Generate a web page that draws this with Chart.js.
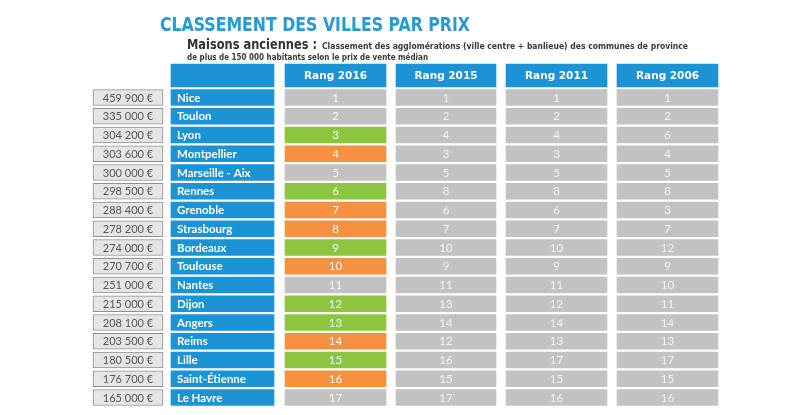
<!DOCTYPE html>
<html>
<head>
<meta charset="utf-8">
<script src="https://cdn.jsdelivr.net/npm/chart.js@4.4.1/dist/chart.umd.min.js"></script>
<style>
	html, body { margin: 0; padding: 0; background: #fff; }
	#wrap { position: relative; width: 800px; height: 415px; }
</style>
</head>
<body>
<div id="wrap"><canvas id="classement" width="800" height="415"></canvas></div>
<script>
(function () {
	'use strict';

	// --- data ---
	var villes = ['Nice', 'Toulon', 'Lyon', 'Montpellier', 'Marseille - Aix', 'Rennes', 'Grenoble',
		'Strasbourg', 'Bordeaux', 'Toulouse', 'Nantes', 'Dijon', 'Angers', 'Reims', 'Lille',
		'Saint-Étienne', 'Le Havre'];
	var prix = [459900, 335000, 304200, 303600, 300000, 298500, 288400, 278200, 274000, 270700,
		251000, 215000, 208100, 203500, 180500, 176700, 165000];
	var rang2016 = [1, 2, 3, 4, 5, 6, 7, 8, 9, 10, 11, 12, 13, 14, 15, 16, 17];
	var rang2015 = [1, 2, 4, 3, 5, 8, 6, 7, 10, 9, 11, 13, 14, 12, 16, 15, 17];
	var rang2011 = [1, 2, 4, 3, 5, 8, 6, 7, 10, 9, 11, 12, 14, 13, 17, 15, 16];
	var rang2006 = [1, 2, 6, 4, 5, 8, 3, 7, 12, 9, 10, 11, 14, 13, 17, 15, 16];
	var enTetes = ['Rang 2016', 'Rang 2015', 'Rang 2011', 'Rang 2006'];

	// --- layout (column extents in x-scale units = px) ---
	var COL_PRIX = [93, 163];
	var COL_VILLE = [171, 274];
	var COL_RANG = [[285, 386], [396, 496], [506, 607], [617, 718]];
	var ROW_H = 18.75;
	var HEADER_Y = -22 / ROW_H;

	var BLEU = '#1b93d5';
	var GRIS = '#c2c2c2';
	var VERT = '#8cc63f';
	var ORANGE = '#f6923f';

	function fmtPrix(v) {
		return String(v).replace(/\B(?=(\d{3})+(?!\d))/g, ' ') + ' €';
	}

	function couleur2016(i) {
		if (rang2016[i] < rang2015[i]) return VERT;
		if (rang2016[i] > rang2015[i]) return ORANGE;
		return GRIS;
	}

	function cells(col) {
		return villes.map(function (v, i) { return { x: col, y: rang2016[i] - 1 }; });
	}

	var datasets = [
		{
			label: 'prix',
			data: cells(COL_PRIX),
			labels: prix.map(fmtPrix),
			backgroundColor: '#e5e5e5',
			borderColor: '#8f8f8f',
			borderWidth: 1,
			borderSkipped: false,
			barThickness: 16,
			txt: { font: '11px Lato', color: '#555', align: 'center' }
		},
		{
			label: 'villes',
			data: cells(COL_VILLE),
			labels: villes,
			backgroundColor: BLEU,
			barThickness: 16,
			txt: { font: 'bold 11.5px Lato', color: '#fff', align: 'left' }
		},
		{
			label: 'Rang 2016',
			data: cells(COL_RANG[0]),
			labels: rang2016.map(String),
			backgroundColor: villes.map(function (v, i) { return couleur2016(i); }),
			barThickness: 16,
			txt: { font: '11.5px Lato', color: '#fafafa', align: 'center' }
		},
		{
			label: 'Rang 2015',
			data: cells(COL_RANG[1]),
			labels: rang2015.map(String),
			backgroundColor: GRIS,
			barThickness: 16,
			txt: { font: '11.5px Lato', color: '#f4f4f4', align: 'center' }
		},
		{
			label: 'Rang 2011',
			data: cells(COL_RANG[2]),
			labels: rang2011.map(String),
			backgroundColor: GRIS,
			barThickness: 16,
			txt: { font: '11.5px Lato', color: '#f4f4f4', align: 'center' }
		},
		{
			label: 'Rang 2006',
			data: cells(COL_RANG[3]),
			labels: rang2006.map(String),
			backgroundColor: GRIS,
			barThickness: 16,
			txt: { font: '11.5px Lato', color: '#f4f4f4', align: 'center' }
		},
		{
			label: 'entetes',
			data: [{ x: COL_VILLE, y: HEADER_Y }].concat(COL_RANG.map(function (c) {
				return { x: c, y: HEADER_Y };
			})),
			labels: [''].concat(enTetes),
			backgroundColor: BLEU,
			barThickness: 23,
			txt: { font: 'bold 10.5px "DejaVu Sans"', color: '#fff', align: 'center' }
		}
	];
	datasets.forEach(function (d) { d.grouped = false; });

	var cellText = {
		id: 'cellText',
		afterDatasetsDraw: function (chart) {
			var ctx = chart.ctx;
			chart.data.datasets.forEach(function (ds, di) {
				var meta = chart.getDatasetMeta(di);
				ctx.save();
				ctx.font = ds.txt.font;
				ctx.fillStyle = ds.txt.color;
				ctx.textBaseline = 'middle';
				meta.data.forEach(function (el, i) {
					var p = el.getProps(['x', 'y', 'base'], true);
					var l = Math.min(p.x, p.base), r = Math.max(p.x, p.base);
					if (ds.txt.align === 'left') {
						ctx.textAlign = 'left';
						ctx.fillText(ds.labels[i], l + 6, p.y + 0.5);
					} else {
						ctx.textAlign = 'center';
						ctx.fillText(ds.labels[i], (l + r) / 2, p.y + 0.5);
					}
				});
				ctx.restore();
			});
		}
	};

	// draw text stretched/condensed to a given width
	function fitText(ctx, txt, x, y, width) {
		var w = ctx.measureText(txt).width;
		ctx.save();
		ctx.translate(x, y);
		ctx.scale(width / w, 1);
		ctx.fillText(txt, 0, 0);
		ctx.restore();
	}

	var titres = {
		id: 'titres',
		afterDraw: function (chart) {
			var ctx = chart.ctx;
			ctx.save();
			ctx.textBaseline = 'alphabetic';
			ctx.textAlign = 'left';
			ctx.font = 'bold 19px "DejaVu Sans Condensed"';
			ctx.fillStyle = '#2699d6';
			fitText(ctx, 'CLASSEMENT DES VILLES PAR PRIX', 160, 31, 310);

			ctx.fillStyle = '#333';
			ctx.font = 'bold 13.5px "DejaVu Sans"';
			fitText(ctx, 'Maisons anciennes :', 187, 49, 130);
			ctx.fillStyle = '#3a3a3a';
			ctx.font = 'bold 8.5px "DejaVu Sans"';
			fitText(ctx, 'Classement des agglomérations (ville centre + banlieue) des communes de province', 322, 49, 366);
			fitText(ctx, 'de plus de 150 000 habitants selon le prix de vente médian', 187, 60, 241);
			ctx.restore();
		}
	};

	new Chart(document.getElementById('classement'), {
		type: 'bar',
		data: { datasets: datasets },
		options: {
			indexAxis: 'y',
			responsive: false,
			animation: false,
			layout: { padding: 0 },
			plugins: { legend: { display: false }, tooltip: { enabled: false } },
			scales: {
				x: { type: 'linear', min: 0, max: 800, display: false, offset: false },
				y: {
					type: 'linear', reverse: true, offset: false, display: false,
					min: -97.5 / ROW_H, max: (415 - 97.5) / ROW_H
				}
			}
		},
		plugins: [cellText, titres]
	});
})();
</script>
</body>
</html>
